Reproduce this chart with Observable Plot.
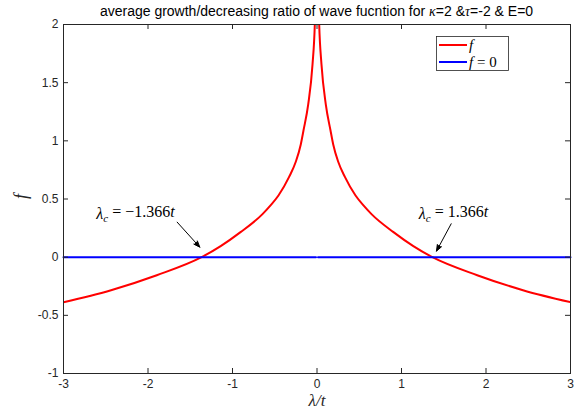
<!DOCTYPE html>
<html><head><meta charset="utf-8">
<script src="https://cdn.jsdelivr.net/npm/d3@7"></script>
<script src="https://cdn.jsdelivr.net/npm/@observablehq/plot@0.6"></script>
<style>
body{margin:0;background:#fff;}
#wrap{position:relative;width:576px;height:415px;}
#title{position:absolute;left:63px;width:507px;top:3px;text-align:center;font:14px "Liberation Sans",Arial,sans-serif;color:#000;white-space:nowrap;line-height:17px;}
#title i{font-family:"Liberation Serif",serif;}
</style></head><body>
<div id="wrap"><div id="chart"></div><div id="title">average growth/decreasing ratio of wave fucntion for <i>κ</i>=2 &amp;<i>τ</i>=-2 &amp; E=0</div></div>
<script>
// tick labels
const xTicks = [-3, -2, -1, 0, 1, 2, 3];
const yTicks = [-1, -0.5, 0, 0.5, 1, 1.5, 2];

// red curve f(λ/t), left branch (λ<0) and right branch (λ>0)
const lambdaLeft = [-3.0, -2.447, -1.896, -1.366, -1.14, -0.905, -0.645, -0.55, -0.456, -0.33, -0.251, -0.192, -0.160, -0.104, -0.053, -0.026, -0.015];
const fLeft      = [-0.387, -0.286, -0.155, 0.0, 0.095, 0.215, 0.37, 0.445, 0.53, 0.69, 0.82, 0.969, 1.089, 1.313, 1.657, 2.0, 2.3];
const lambdaRight = [0.015, 0.026, 0.053, 0.104, 0.160, 0.192, 0.251, 0.33, 0.456, 0.55, 0.645, 0.905, 1.14, 1.366, 1.896, 2.447, 3.0];
const fRight      = [2.3, 2.0, 1.657, 1.313, 1.089, 0.969, 0.82, 0.69, 0.53, 0.445, 0.37, 0.215, 0.095, 0.0, -0.155, -0.286, -0.387];

// blue line f = 0 (broken at λ = 0)
const zeroLambda = [-3, -0.012, 0.012, 3];
const zeroF      = [0, 0, 0, 0];
const zeroBranch = ["L", "L", "R", "R"];

// annotations
const annLambda = [-2.148, 1.615];
const annF      = [0.376, 0.376];
const annText   = ["λc = −1.366t", "λc = 1.366t"];
const arrowX1 = [-1.655, 1.588];
const arrowY1 = [0.301, 0.287];
const arrowX2 = [-1.387, 1.414];
const arrowY2 = [0.086, 0.052];

const redData = [
  ...lambdaLeft.map((x, i) => ({x, y: fLeft[i], b: "L"})),
  ...lambdaRight.map((x, i) => ({x, y: fRight[i], b: "R"}))
];
const zeroData = zeroLambda.map((x, i) => ({x, y: zeroF[i], b: zeroBranch[i]}));
const annData = annText.map((t, i) => ({x: annLambda[i], y: annF[i], t}));
const arrowData = arrowX1.map((x1, i) => ({x1, y1: arrowY1[i], x2: arrowX2[i], y2: arrowY2[i]}));

const W = 576, H = 415, ML = 63, MR = 6, MT = 24, MB = 42;
const PW = W - ML - MR, PH = H - MT - MB;
const axisColor = "#262626";

const chart = Plot.plot({
  width: W, height: H,
  marginLeft: ML, marginRight: MR, marginTop: MT, marginBottom: MB,
  style: {fontFamily: "'Liberation Sans', Arial, sans-serif", fontSize: "12px", color: axisColor, background: "#fff", overflow: "visible"},
  x: {domain: [-3, 3], ticks: xTicks, tickSize: 0, tickPadding: 6, tickFormat: d => String(d), label: null},
  y: {domain: [-1, 2], ticks: yTicks, tickSize: 0, tickPadding: 5, tickFormat: d => String(d), label: null},
  marks: [
    Plot.line(redData, {x: "x", y: "y", z: "b", stroke: "#ff0000", strokeWidth: 2, curve: "monotone-x", clip: true}),
    Plot.line(zeroData, {x: "x", y: "y", z: "b", stroke: "#0000ff", strokeWidth: 2}),
    Plot.frame({stroke: axisColor, strokeWidth: 1}),
    Plot.ruleX(xTicks, {x: d => d, insetTop: PH - 5, stroke: axisColor}),
    Plot.ruleX(xTicks, {x: d => d, insetBottom: PH - 5, stroke: axisColor}),
    Plot.ruleY(yTicks, {y: d => d, insetRight: PW - 5, stroke: axisColor}),
    Plot.ruleY(yTicks, {y: d => d, insetLeft: PW - 5, stroke: axisColor}),
    Plot.arrow(arrowData, {x1: "x1", y1: "y1", x2: "x2", y2: "y2", stroke: "#000", strokeWidth: 1, headLength: 10, headAngle: 42}),
    Plot.text(annData, {x: "x", y: "y", text: "t", fontFamily: "'Liberation Serif', serif", fontSize: 16, fill: "#000", textAnchor: "middle"}),
    Plot.text(["λ/t"], {frameAnchor: "bottom", dy: 32, fontFamily: "'Liberation Serif', serif", fontStyle: "italic", fontSize: 17, fill: axisColor}),
    Plot.text(["f"], {frameAnchor: "left", dx: -42, rotate: -90, fontFamily: "'Liberation Serif', serif", fontStyle: "italic", fontSize: 18, fill: axisColor})
  ]
});
document.getElementById("chart").appendChild(chart);

const svg = d3.select(chart);

// filled arrow heads (MATLAB style)
svg.selectAll("g[aria-label='arrow'] path").attr("fill", "#000");

// render math-style annotation texts with subscript
svg.selectAll("text").filter(function() { return this.textContent.startsWith("λc"); }).each(function() {
  const txt = this.textContent;
  const rest = txt.slice(2, txt.length - 1);
  const el = d3.select(this);
  el.text(null);
  el.append("tspan").attr("font-style", "italic").text("λ");
  el.append("tspan").attr("font-style", "italic").attr("font-size", "11px").attr("dy", "0.3em").text("c");
  el.append("tspan").attr("dy", "-0.3em").text(rest);
  el.append("tspan").attr("font-style", "italic").text("t");
});

// legend box (top right, inside plot)
const lg = svg.append("g").attr("font-family", "'Liberation Serif', serif").attr("font-size", 15).attr("text-anchor", "start");
lg.append("rect").attr("x", 436.5).attr("y", 36.5).attr("width", 72).attr("height", 34)
  .attr("fill", "#fff").attr("stroke", axisColor).attr("stroke-width", 0.8);
const legendItems = [{c: "#ff0000", y: 45, label: "f"}, {c: "#0000ff", y: 62, label: "f = 0"}];
legendItems.forEach(it => {
  lg.append("line").attr("x1", 439).attr("x2", 467).attr("y1", it.y).attr("y2", it.y)
    .attr("stroke", it.c).attr("stroke-width", 2);
  const t = lg.append("text").attr("x", 469).attr("y", it.y).attr("dy", "0.32em").attr("fill", "#000").attr("text-anchor", "start");
  t.append("tspan").attr("font-style", "italic").text("f");
  if (it.label.length > 1) t.append("tspan").text(" = 0");
});
</script>
</body></html>
